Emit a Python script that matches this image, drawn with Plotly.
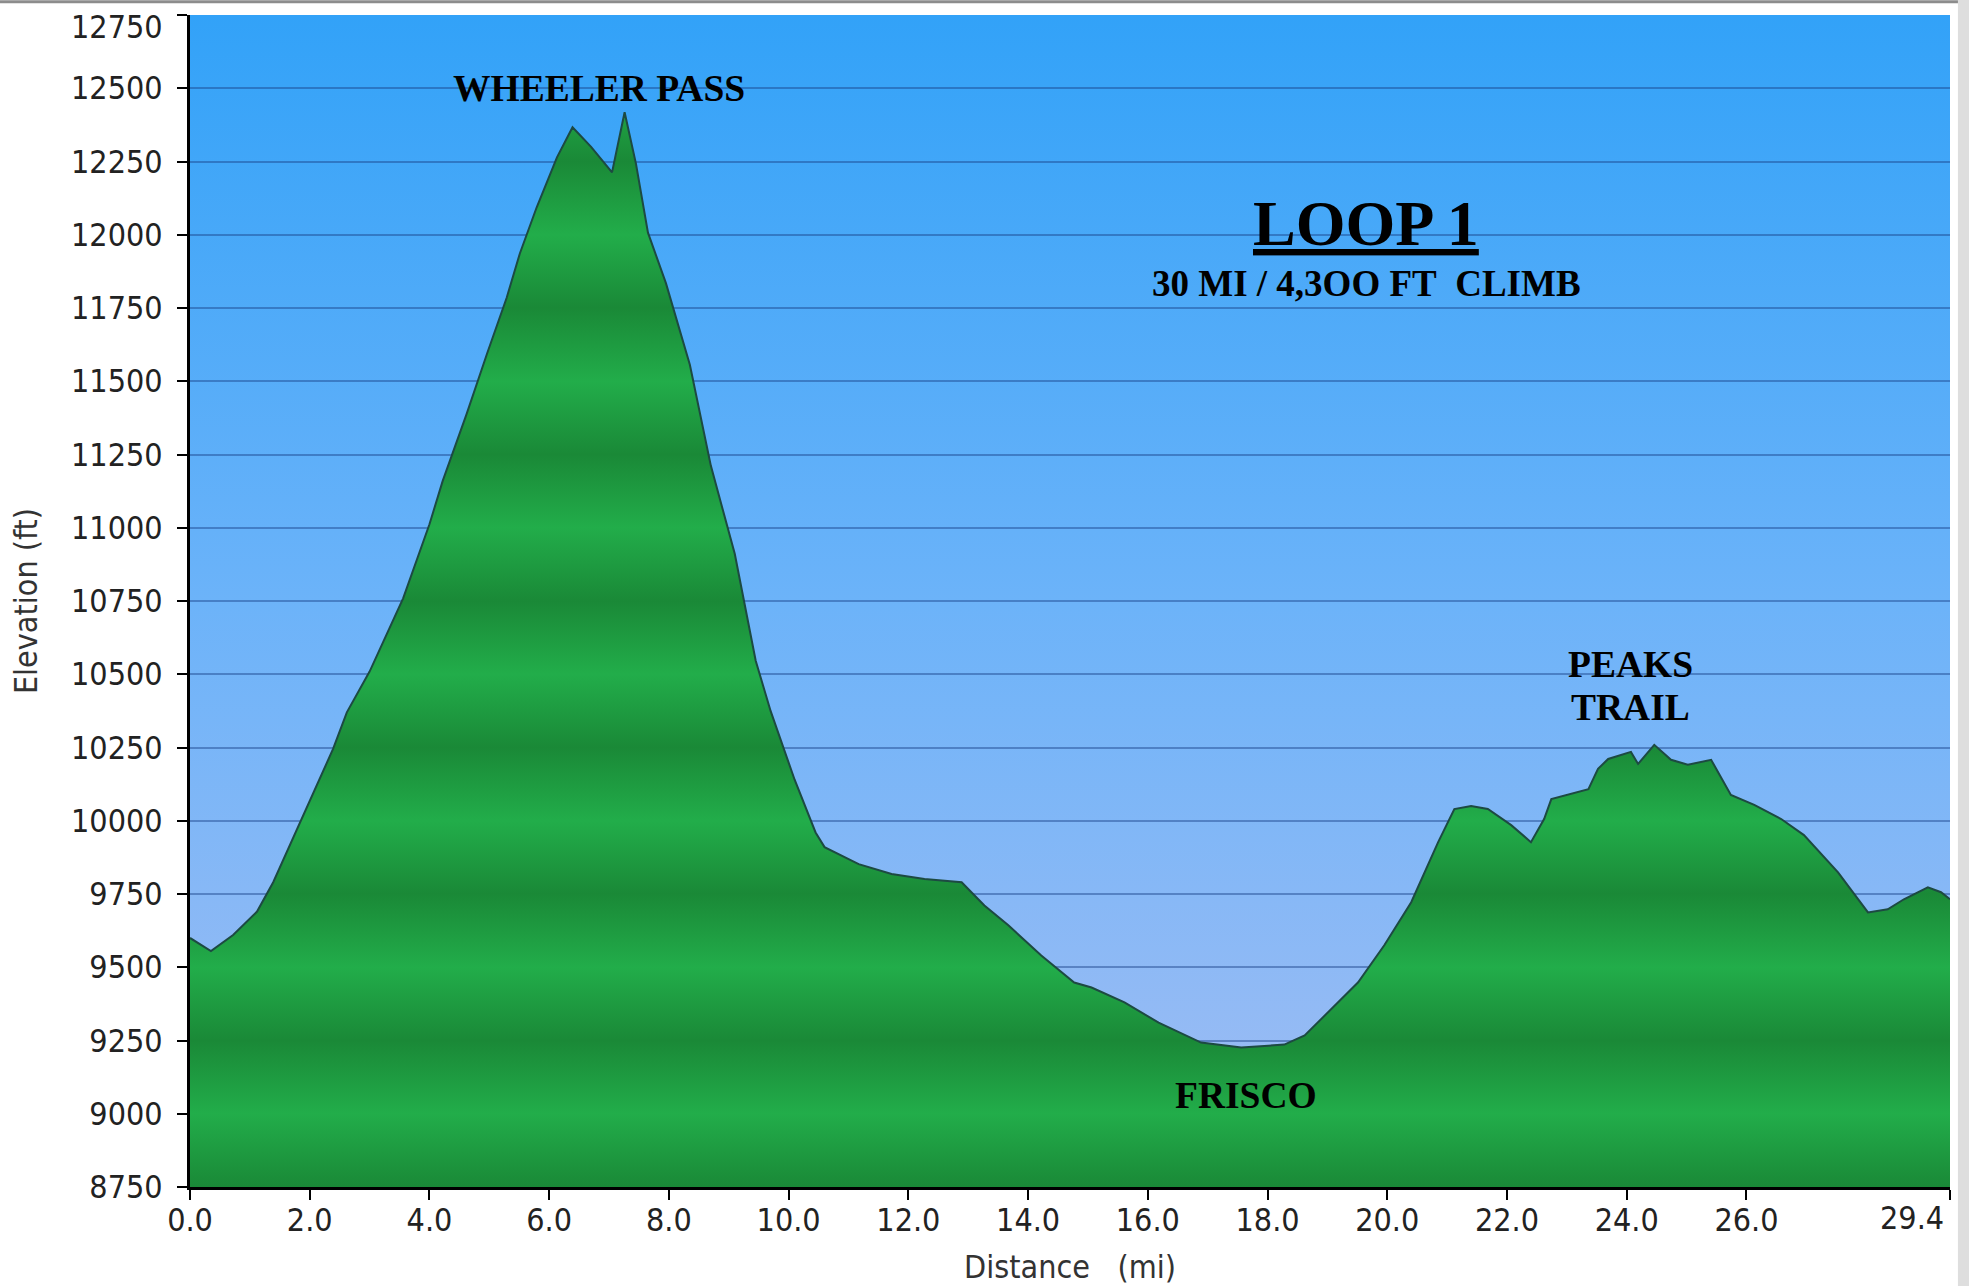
import base64
import plotly.graph_objects as go

# ---------------- data ----------------
distance_mi = [0.0, 0.35, 0.72, 1.12, 1.39, 1.84, 2.39, 2.62, 3.0, 3.56, 4.0, 4.22, 4.62, 4.96,
               5.29, 5.51, 5.79, 6.13, 6.39, 6.7, 7.05, 7.26, 7.45, 7.65, 7.95, 8.35, 8.7, 9.1,
               9.45, 9.7, 10.1, 10.45, 10.6, 11.17, 11.72, 12.27, 12.89, 13.27, 13.67, 14.22,
               14.77, 15.06, 15.61, 16.18, 16.89, 17.56, 18.28, 18.62, 18.95, 19.51, 19.95, 20.4,
               20.85, 21.12, 21.4, 21.68, 22.07, 22.4, 22.62, 22.74, 23.36, 23.52, 23.69, 24.07,
               24.19, 24.46, 24.74, 25.02, 25.41, 25.74, 26.13, 26.58, 26.96, 27.53, 28.03, 28.36,
               28.63, 29.03, 29.25, 29.4]
elevation_ft = [9600, 9555, 9610, 9690, 9790, 9996, 10245, 10370, 10509, 10759, 11012, 11159,
                11388, 11593, 11785, 11936, 12093, 12264, 12367, 12300, 12213, 12418, 12242, 12007,
                11835, 11556, 11212, 10911, 10546, 10374, 10140, 9960, 9910, 9852, 9818, 9801,
                9790, 9711, 9643, 9540, 9448, 9431, 9380, 9311, 9243, 9226, 9236, 9267, 9335,
                9448, 9575, 9722, 9927, 10040, 10050, 10040, 9985, 9927, 10006, 10074, 10108,
                10177, 10211, 10235, 10194, 10259, 10208, 10191, 10208, 10088, 10054, 10006, 9951,
                9824, 9687, 9698, 9732, 9773, 9756, 9732]

x_tick_vals = [0.0, 2.0, 4.0, 6.0, 8.0, 10.0, 12.0, 14.0, 16.0, 18.0, 20.0, 22.0, 24.0, 26.0, 29.4]
x_tick_text = ["0.0", "2.0", "4.0", "6.0", "8.0", "10.0", "12.0", "14.0", "16.0", "18.0",
               "20.0", "22.0", "24.0", "26.0", "29.4"]
y_tick_vals = [8750, 9000, 9250, 9500, 9750, 10000, 10250, 10500, 10750, 11000, 11250, 11500,
               11750, 12000, 12250, 12500, 12750]
y_tick_text = [str(v) for v in y_tick_vals]

x_range = [0, 29.4]
y_range = [8750, 12750]

labels = ["WHEELER PASS", "PEAKS", "TRAIL", "FRISCO"]
label_x = [6.83, 24.07, 24.07, 17.64]
label_y = [12500, 10535, 10388, 9061]

title_text = "LOOP 1"
subtitle_text = "30 MI / 4,3OO FT&nbsp;&nbsp;CLIMB"
title_x = 19.65
title_y = 12040
subtitle_y = 11835

# ---------------- styling ----------------
LIGHT_G = "#22ad4a"
DARK_G = "#1a8937"
n_bands = len(y_tick_vals) - 1
band_scale = [[k / n_bands, DARK_G if k % 2 == 0 else LIGHT_G] for k in range(n_bands + 1)]

svg_bg = (
    '<svg xmlns="http://www.w3.org/2000/svg" width="10" height="100" viewBox="0 0 10 100" '
    'preserveAspectRatio="none"><defs><linearGradient id="g" x1="0" y1="0" x2="0" y2="1">'
    '<stop offset="0" stop-color="#32a2f8"/><stop offset="0.5" stop-color="#6cb3f9"/>'
    '<stop offset="1" stop-color="#a2bdf3"/></linearGradient></defs>'
    '<rect x="0" y="0" width="10" height="100" fill="url(#g)"/></svg>'
)
bg_uri = "data:image/svg+xml;base64," + base64.b64encode(svg_bg.encode()).decode()

SANS = "DejaVu Sans Condensed, DejaVu Sans, Verdana"
TICK_FONT = dict(family=SANS, size=32, color="#222222")
SERIF = "Liberation Serif, Times New Roman, serif"
LABEL_FONT = dict(family=SERIF, size=37.5, color="#000000")

fig = go.Figure()
fig.add_trace(go.Scatter(
    x=distance_mi, y=elevation_ft, mode="lines",
    line=dict(color="#1d4a42", width=2),
    fill="tozeroy",
    fillgradient=dict(type="vertical", colorscale=band_scale, start=y_range[0], stop=y_range[1]),
    hoverinfo="skip", showlegend=False,
))

for t, xx, yy in zip(labels, label_x, label_y):
    fig.add_annotation(x=xx, y=yy, text="<b>" + t + "</b>", showarrow=False,
                       font=LABEL_FONT, xanchor="center", yanchor="middle")

fig.add_annotation(x=title_x, y=title_y, text="<b><u>" + title_text + "</u></b>", showarrow=False,
                   font=dict(family=SERIF, size=64, color="#000"),
                   xanchor="center", yanchor="middle")
fig.add_annotation(x=title_x, y=subtitle_y, text="<b>" + subtitle_text + "</b>", showarrow=False,
                   font=dict(family=SERIF, size=37, color="#000"),
                   xanchor="center", yanchor="middle")

# end tick labels are nudged inward in the original
fig.add_annotation(x=x_tick_vals[-1], y=0, xref="x", yref="paper", text=x_tick_text[-1],
                   showarrow=False, font=TICK_FONT, xanchor="right", yanchor="middle",
                   xshift=-4, yshift=-31)
fig.add_annotation(x=0, y=y_tick_vals[-1], xref="paper", yref="y", text=y_tick_text[-1],
                   showarrow=False, font=TICK_FONT, xanchor="right", yanchor="middle",
                   xshift=-25, yshift=-12)

fig.add_layout_image(dict(source=bg_uri, xref="paper", yref="paper", x=0, y=1, sizex=1, sizey=1,
                          xanchor="left", yanchor="top", sizing="stretch", layer="below"))

# image frame
fig.add_shape(type="line", xref="paper", yref="paper", x0=-0.2, x1=1.1, y0=1.0113, y1=1.0113,
              line=dict(color="#8c8c8c", width=3))
fig.add_shape(type="rect", xref="paper", yref="paper", x0=1.0045, x1=1.02, y0=-0.2, y1=1.02,
              line=dict(width=0), fillcolor="#dedede")

fig.update_layout(
    width=1969, height=1286,
    margin=dict(l=190, r=19, t=15, b=99, autoexpand=False),
    paper_bgcolor="white", plot_bgcolor="rgba(0,0,0,0)",
    showlegend=False,
)
fig.update_xaxes(
    range=x_range, tickvals=x_tick_vals, ticktext=x_tick_text[:-1] + [""],
    showgrid=False, zeroline=False, automargin=False,
    showline=True, linecolor="black", linewidth=3,
    ticks="outside", ticklen=10, tickwidth=2, tickcolor="black",
    tickfont=TICK_FONT, ticklabelstandoff=-7,
    title=dict(text="Distance&nbsp;&nbsp;&nbsp;(mi)", font=dict(family=SANS, size=32, color="#333"),
               standoff=20),
)
fig.update_yaxes(
    range=y_range, tickvals=y_tick_vals, ticktext=y_tick_text[:-1] + [""],
    showgrid=True, gridcolor="rgba(25,65,135,0.45)", gridwidth=1.5, zeroline=False,
    automargin=False,
    showline=True, linecolor="black", linewidth=3,
    ticks="outside", ticklen=10, tickwidth=2, tickcolor="black",
    tickfont=TICK_FONT, ticklabelstandoff=8,
    title=dict(text="Elevation (ft)", font=dict(family=SANS, size=32, color="#333"),
               standoff=24),
)

fig.write_html("out.html", config={"displayModeBar": False},
               post_script="document.body.style.margin='0';")
